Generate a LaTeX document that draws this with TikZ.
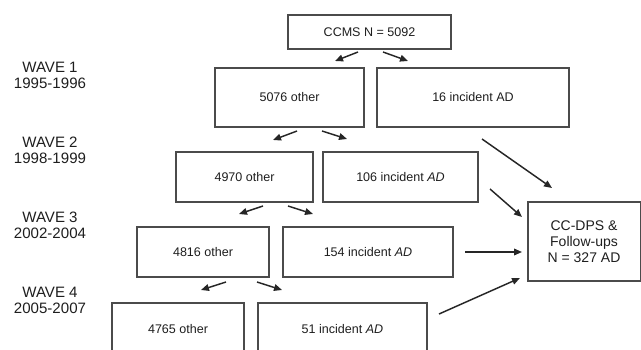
\documentclass[tikz,border=0pt]{standalone}
\usepackage{fontspec}
\setmainfont{Liberation Sans}
\usetikzlibrary{arrows.meta}
\definecolor{linegray}{RGB}{75,75,75}
\definecolor{textgray}{RGB}{30,30,30}

\begin{document}
\begin{tikzpicture}[x=0.75pt, y=-0.75pt,
  box/.style={draw=linegray, line width=1.5pt, inner sep=0pt, text=textgray, font=\fontsize{9.4}{11}\selectfont},
  boxsize/.style 2 args={minimum width=#1*0.75pt, minimum height=#2*0.75pt},
  wave/.style={align=center, text=textgray, font=\fontsize{11.3}{12}\selectfont},
  arr/.style={draw=black!85, line width=1.1pt, -{Triangle[length=6pt,width=5pt]}}]
\useasboundingbox (0,0) rectangle (641,349);
\clip (0,0) rectangle (641,349);

% wave labels
\node[wave] (wave1) at (50,75) {WAVE 1\\1995-1996};
\node[wave] (wave2) at (50,150) {WAVE 2\\1998-1999};
\node[wave] (wave3) at (50,225.5) {WAVE 3\\2002-2004};
\node[wave] (wave4) at (50,300) {WAVE 4\\2005-2007};

% boxes
\node[box, boxsize={163}{34}] (ccms) at (369.5,32) {CCMS N = 5092};

\node[box, boxsize={149}{59}] (other1) at (289.5,97.5) {5076 other};
\node[box, boxsize={192}{59}] (inc1) at (473,97.5) {16 incident AD};

\node[box, boxsize={137}{50}] (other2) at (244.5,177) {4970 other};
\node[box, boxsize={155}{50}] (inc2) at (400.5,177) {106 incident \textit{AD}};

\node[box, boxsize={132}{50}] (other3) at (203,252) {4816 other};
\node[box, boxsize={170}{50}] (inc3) at (368,252) {154 incident \textit{AD}};

\node[box, boxsize={132}{52}] (other4) at (178,329) {4765 other};
\node[box, boxsize={169}{52}] (inc4) at (342.5,329) {51 incident \textit{AD}};

\node[box, boxsize={113}{79}, align=center, font=\fontsize{10.5}{12}\selectfont] (ccdps) at (584,241.5)
  {CC-DPS \&\\Follow-ups\\N = 327 AD};

% split arrows
\coordinate (a1s) at (358,52);  \coordinate (a1e) at (335,61);
\coordinate (b1s) at (383,52);  \coordinate (b1e) at (408,61);
\coordinate (a2s) at (297,131); \coordinate (a2e) at (273,140);
\coordinate (b2s) at (322,131); \coordinate (b2e) at (347,139);
\coordinate (a3s) at (263,206); \coordinate (a3e) at (239,214);
\coordinate (b3s) at (288,206); \coordinate (b3e) at (313,214);
\coordinate (a4s) at (226,282); \coordinate (a4e) at (201,290);
\coordinate (b4s) at (257,282); \coordinate (b4e) at (282,290);

\draw[arr] (a1s) -- (a1e);
\draw[arr] (b1s) -- (b1e);
\draw[arr] (a2s) -- (a2e);
\draw[arr] (b2s) -- (b2e);
\draw[arr] (a3s) -- (a3e);
\draw[arr] (b3s) -- (b3e);
\draw[arr] (a4s) -- (a4e);
\draw[arr] (b4s) -- (b4e);

% arrows into CC-DPS
\coordinate (c1s) at (482,139); \coordinate (c1e) at (552,188);
\coordinate (c2s) at (490,189); \coordinate (c2e) at (522,217);
\coordinate (c3s) at (465,252); \coordinate (c3e) at (522,252);
\coordinate (c4s) at (439,314); \coordinate (c4e) at (520,278);

\draw[arr] (c1s) -- (c1e);
\draw[arr] (c2s) -- (c2e);
\draw[arr] (c3s) -- (c3e);
\draw[arr] (c4s) -- (c4e);
\end{tikzpicture}
\end{document}
